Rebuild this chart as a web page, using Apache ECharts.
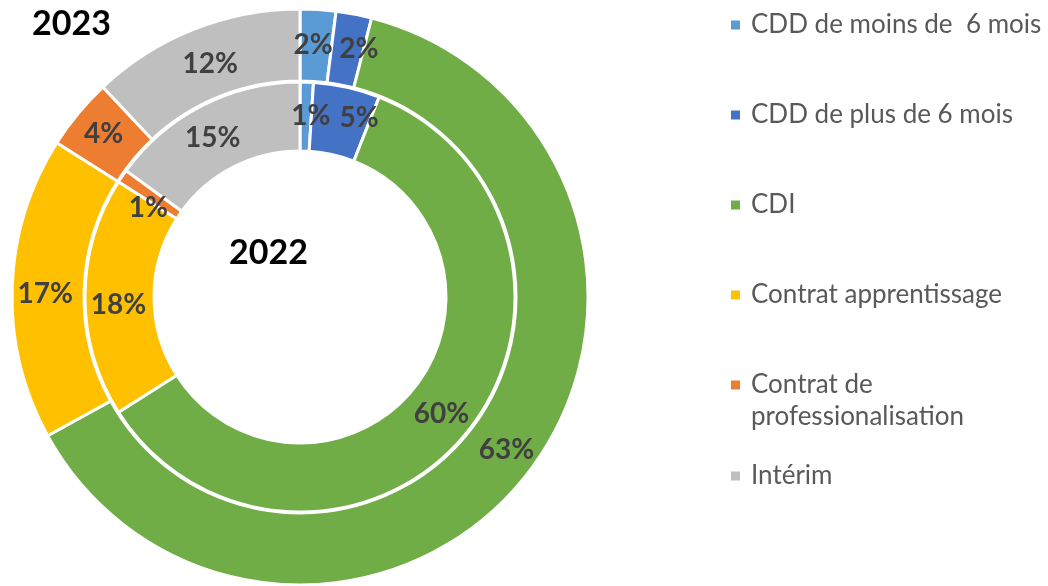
<!DOCTYPE html>
<html>
<head>
<meta charset="utf-8">
<script src="https://cdn.jsdelivr.net/npm/echarts@6/dist/echarts.min.js"></script>
<style>
html,body{margin:0;padding:0;background:#fff;}
#chart{width:1048px;height:586px;}
</style>
</head>
<body>
<div id="chart"></div>
<script>
const categories = ["CDD de moins de  6 mois", "CDD de plus de 6 mois", "CDI", "Contrat apprentissage", "Contrat de professionalisation", "Intérim"];
const values2023 = [2, 2, 63, 17, 4, 12];
const values2022 = [1, 5, 60, 18, 1, 15];
const colors = ["#5B9BD5", "#4472C4", "#70AD47", "#FFC000", "#ED7D31", "#BFBFBF"];
const legendTops = [11, 101, 191, 281, 371, 462];

// label nudges (style only), keyed by series index then data index
const labelNudge = {
  0: { 0: [-3, 2], 1: [11, 2], 5: [4, 4], 3: [0, 5], 2: [5, -3] },
  1: { 0: [5, 2], 1: [19, 0], 4: [0, 14], 3: [2, 8], 5: [-4, 4] }
};

const font = "Lato";
const chart = echarts.init(document.getElementById('chart'));

function toData(vals) {
  return categories.map((c, i) => ({ name: c, value: vals[i] }));
}

const labelCfg = {
  show: true,
  position: 'inside',
  formatter: p => p.value + '%',
  fontSize: 28,
  fontWeight: 'bold',
  color: '#404040',
  fontFamily: font
};

function layoutFor(si) {
  return function (params) {
    const n = (labelNudge[si] || {})[params.dataIndex];
    const out = { hideOverlap: false, moveOverlap: null };
    if (n) {
      out.x = params.labelRect.x + n[0];
      out.y = params.labelRect.y + n[1];
    }
    return {
      hideOverlap: false,
      dx: n ? n[0] : 0,
      dy: n ? n[1] : 0
    };
  };
}

const legends = categories.map((c, i) => ({
  data: [c],
  orient: 'vertical',
  left: 729,
  top: legendTops[i],
  padding: 0,
  icon: 'rect',
  itemWidth: 11,
  itemHeight: 11,
  selectedMode: false,
  formatter: n => n === 'Contrat de professionalisation' ? 'Contrat de' : n,
  textStyle: { fontSize: 26, color: '#595959', fontFamily: font, lineHeight: 28, padding: [0, 0, 0, 5] }
}));

chart.setOption({
  animation: false,
  color: colors,
  title: [
    { text: '2023', left: 32, top: 7, padding: 0, textStyle: { fontSize: 34, fontWeight: 'bold', color: '#000', fontFamily: font } },
    { text: '2022', left: 229, top: 236, padding: 0, textStyle: { fontSize: 34, fontWeight: 'bold', color: '#000', fontFamily: font } }
  ],
  legend: legends,
  graphic: [
    { type: 'text', left: 751, top: 404, style: { text: 'professionalisation', fontSize: 26, fill: '#595959', fontFamily: font } }
  ],
  series: [
    {
      name: '2023',
      type: 'pie',
      center: [300, 297],
      radius: [216, 288],
      startAngle: 90,
      clockwise: true,
      avoidLabelOverlap: false,
      itemStyle: { borderColor: '#fff', borderWidth: 3 },
      label: labelCfg,
      labelLine: { show: false },
      labelLayout: layoutFor(0),
      emphasis: { disabled: true },
      data: toData(values2023)
    },
    {
      name: '2022',
      type: 'pie',
      center: [300, 297],
      radius: [146, 215],
      startAngle: 90,
      clockwise: true,
      avoidLabelOverlap: false,
      itemStyle: { borderColor: '#fff', borderWidth: 3 },
      label: labelCfg,
      labelLine: { show: false },
      labelLayout: layoutFor(1),
      emphasis: { disabled: true },
      data: toData(values2022)
    }
  ]
});
</script>
</body>
</html>
